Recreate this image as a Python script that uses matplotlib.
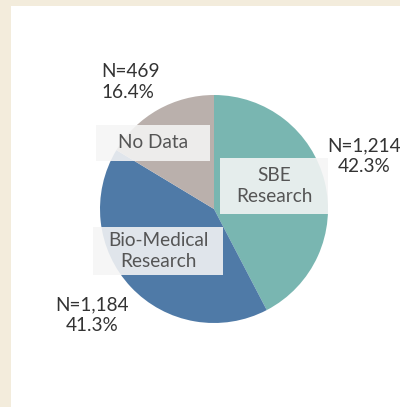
import matplotlib
matplotlib.use("Agg")
import matplotlib.pyplot as plt
from matplotlib.patches import Rectangle

categories = ["SBE\nResearch", "Bio-Medical\nResearch", "No Data"]
counts = [1214, 1184, 469]
shares = [42.3, 41.3, 16.4]
colors = ["#79b6b1", "#4f7aa7", "#bab0ac"]

W, H = 400, 407
plt.rcParams['font.family'] = ['Lato', 'DejaVu Sans']
fig = plt.figure(figsize=(W / 100, H / 100), dpi=100, facecolor="#f3ecdc")


def px(x, y):
    return x / W, 1 - y / H


# white panel
bg = fig.add_axes([11 / W, 0, 1 - 11 / W, (H - 6) / H])
bg.set_facecolor("white")
bg.set_xticks([])
bg.set_yticks([])
for s in bg.spines.values():
    s.set_visible(False)

# pie, centre (214, 209), radius 114 px
cx, cy, r = 214, 209, 114
ax = fig.add_axes([(cx - r) / W, (H - cy - r) / H, 2 * r / W, 2 * r / H])
ax.pie(counts, colors=colors, startangle=90, counterclock=False, radius=1,
       wedgeprops=dict(linewidth=0))
ax.set_xlim(-1, 1)
ax.set_ylim(-1, 1)
ax.axis("off")

txt = "#333333"
fs = 13.7

# label boxes (x0, y0, x1, y1 in pixels)
boxes = [(220, 158, 328, 214), (93, 227, 223, 275), (96, 125, 210, 161)]
for (x0, y0, x1, y1), cat in zip(boxes, categories):
    fig.patches.append(Rectangle(px(x0, y1), (x1 - x0) / W, (y1 - y0) / H,
                                 transform=fig.transFigure, facecolor="#f5f5f5",
                                 alpha=0.88, edgecolor="none", zorder=3))
    tx, ty = px((x0 + x1) / 2, (y0 + y1) / 2)
    fig.text(tx, ty, cat, ha="center", va="center", fontsize=fs, color="#555555",
             linespacing=1.3, zorder=4)

# count / percent labels
anchors = [((364, 156), "center"), ((92, 315), "center"), ((101, 82), "left")]
for ((x, y), ha), n, p in zip(anchors, counts, shares):
    tx, ty = px(x, y)
    fig.text(tx, ty, f"N={n:,}\n{p}%", ha=ha, va="center", fontsize=fs,
             color=txt, linespacing=1.3, zorder=4)

fig.savefig("out.png", dpi=100, facecolor=fig.get_facecolor())
